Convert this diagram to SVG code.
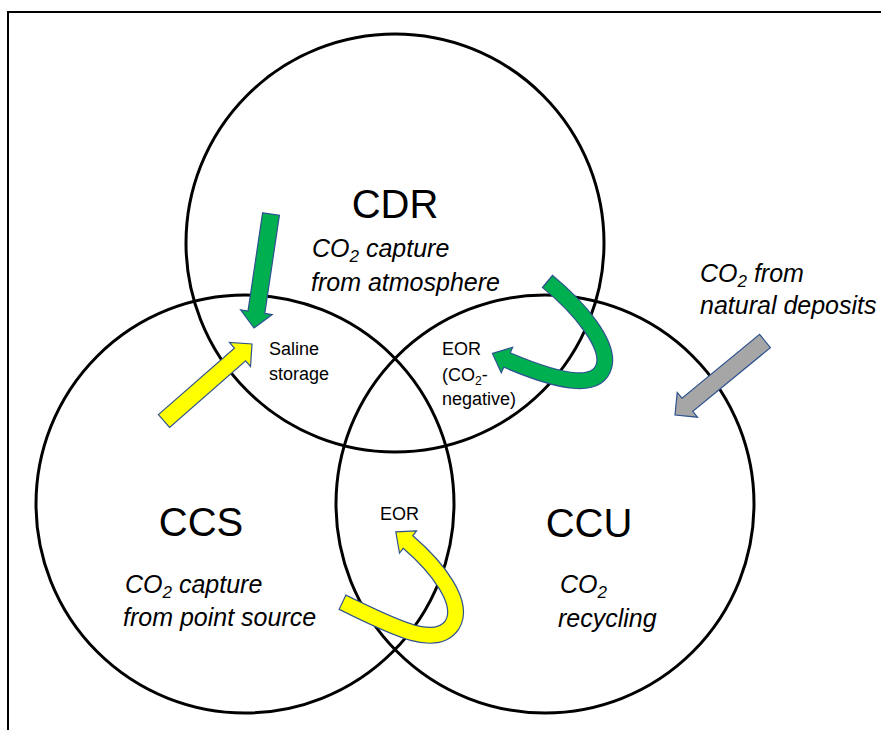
<svg xmlns="http://www.w3.org/2000/svg" width="881" height="730" viewBox="0 0 881 730">
<style>
.circ{fill:none;stroke:#000;stroke-width:3}
.big{font-family:"Liberation Sans",Arial,sans-serif;font-size:40px;fill:#000;text-anchor:middle}
.it{font-family:"Liberation Sans",Arial,sans-serif;font-size:25px;font-style:italic;fill:#000}
.sm{font-family:"Liberation Sans",Arial,sans-serif;font-size:18px;fill:#000}
.ol{stroke:#2F528F;stroke-width:1.2;stroke-linejoin:miter}
</style>
<rect x="8" y="12" width="900" height="800" fill="#fff" stroke="#000" stroke-width="2"/>
<g id="CDR">
<circle class="circ" cx="395" cy="243" r="209"/>
<text class="big" x="395" y="218">CDR</text>
<text class="it" x="312" y="257">CO<tspan font-size="17" dy="5">2</tspan><tspan dy="-5"> capture</tspan></text>
<text class="it" x="311" y="291">from atmosphere</text>
</g>
<g id="CCS">
<circle class="circ" cx="245" cy="504" r="209"/>
<text class="big" x="201" y="536">CCS</text>
<text class="it" x="125" y="593">CO<tspan font-size="17" dy="5">2</tspan><tspan dy="-5"> capture</tspan></text>
<text class="it" x="123" y="626">from point source</text>
</g>
<g id="CCU">
<circle class="circ" cx="545" cy="504" r="209"/>
<text class="big" x="589" y="537">CCU</text>
<text class="it" x="560" y="593">CO<tspan font-size="17" dy="5">2</tspan></text>
<text class="it" x="558" y="627">recycling</text>
</g>
<g id="natural">
<text class="it" x="700" y="282">CO<tspan font-size="17" dy="5">2</tspan><tspan dy="-5"> from</tspan></text>
<text class="it" x="700" y="314">natural deposits</text>
</g>
<g id="saline">
<text class="sm" x="269" y="355">Saline</text>
<text class="sm" x="269" y="380">storage</text>
</g>
<g id="eor-neg">
<text class="sm" x="442" y="355">EOR</text>
<text class="sm" x="442" y="381">(CO<tspan font-size="12" dy="4">2</tspan><tspan dy="-4">-</tspan></text>
<text class="sm" x="442" y="405">negative)</text>
</g>
<g id="eor">
<text class="sm" x="380" y="520">EOR</text>
</g>
<g id="connectors">
<polygon class="ol" fill="#00B050" points="262.6,212.8 279.4,215.2 264.8,313.4 272.2,314.6 254,328 240.6,309.8 248,311"/>
<polygon class="ol" fill="#FFFF00" points="158.4,414.6 234.4,348.1 229.5,342.5 252,344 250.5,366.5 245.6,360.9 169.6,427.4"/>
<polygon class="ol" fill="#A6A6A6" points="759.6,334.4 770.4,347.6 692.8,411.4 697.5,417.2 675,415 677.2,392.4 682,398.2"/>
<path d="M 547 281 C 580 308, 610 345, 604 366 C 598 387, 568 386, 507 360" fill="none" stroke="#2F528F" stroke-width="17"/>
<polygon class="ol" fill="#00B050" points="512.7,347.2 492.4,353.4 501.3,372.8"/>
<path d="M 548 282 C 580 308, 610 345, 604 366 C 598 387, 568 386, 507 360 L 504 358.7" fill="none" stroke="#00B050" stroke-width="14.6"/>
<path d="M 342 602 C 390 625, 435 650, 452 625 C 466 603, 436 566, 408 542" fill="none" stroke="#2F528F" stroke-width="17"/>
<polygon class="ol" fill="#FFFF00" points="416.5,530.9 395.8,531.9 399.5,553.1"/>
<path d="M 343 602.5 C 390 625, 435 650, 452 625 C 466 603, 436 566, 408 542 L 405.6 540" fill="none" stroke="#FFFF00" stroke-width="14.6"/>
</g>
</svg>
